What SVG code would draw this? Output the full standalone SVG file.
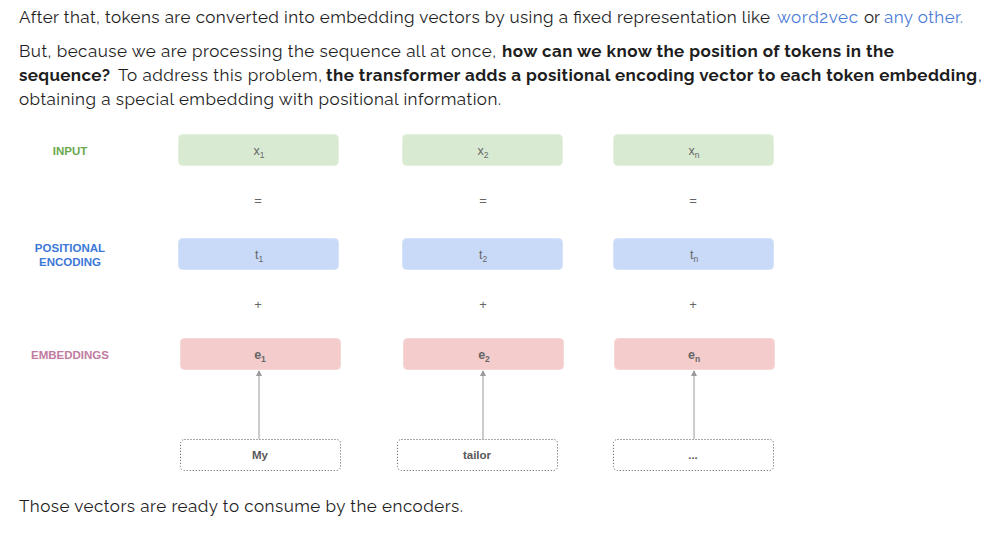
<svg xmlns="http://www.w3.org/2000/svg" width="994" height="533" viewBox="0 0 994 533">
<defs>
<style>
.p{font-family:Raleway,"Open Sans","Liberation Sans",sans-serif;font-size:17px;fill:#1e1e1e}
.b{font-weight:bold}
.lk{fill:#4a7bd6}
.lbl{font-family:"Liberation Sans",Arial,sans-serif;font-size:11.5px;font-weight:bold;text-anchor:middle}
.bt{font-family:"Liberation Sans",Arial,sans-serif;font-size:12.5px;fill:#666;text-anchor:middle}
.bb{font-weight:bold}
.sub{font-size:8.5px}
.op{font-family:"Liberation Sans",Arial,sans-serif;font-size:13px;fill:#666;text-anchor:middle}
.in{fill:#d9ead3;stroke:#e4f0df}
.pe{fill:#c9daf8;stroke:#d6e3fa}
.em{fill:#f4cccc;stroke:#f7d8d8}
.tk{fill:#fff;stroke:#555;stroke-dasharray:1 2}
.tt{font-family:"Liberation Sans",Arial,sans-serif;font-size:11.5px;font-weight:bold;fill:#595959;text-anchor:middle}
.ar{stroke:#9a9a9a;stroke-width:1;fill:none;marker-end:url(#ah)}
</style>
<marker id="ah" viewBox="0 0 6 6" refX="5" refY="3" markerWidth="6" markerHeight="6" markerUnits="userSpaceOnUse" orient="auto">
<path d="M0,0 L6,3 L0,6 z" fill="#9a9a9a"/>
</marker>
</defs>
<rect width="994" height="533" fill="#fff"/>

<g id="prose">
<text class="p" y="23"><tspan x="19" textLength="751" lengthAdjust="spacing">After that, tokens are converted into embedding vectors by using a fixed representation like</tspan><tspan x="777" class="lk" textLength="81" lengthAdjust="spacing">word2vec</tspan><tspan x="864">or</tspan><tspan x="884" class="lk" textLength="79" lengthAdjust="spacing">any other.</tspan></text>
<text class="p" y="57"><tspan x="19" textLength="477" lengthAdjust="spacing">But, because we are processing the sequence all at once,</tspan><tspan x="502" class="b" textLength="392" lengthAdjust="spacing">how can we know the position of tokens in the</tspan></text>
<text class="p" y="81"><tspan x="19" class="b" textLength="91" lengthAdjust="spacing">sequence?</tspan><tspan x="118" textLength="204" lengthAdjust="spacing">To address this problem,</tspan><tspan x="326" class="b" textLength="651" lengthAdjust="spacing">the transformer adds a positional encoding vector to each token embedding</tspan><tspan x="978">,</tspan></text>
<text class="p" y="105"><tspan x="19" textLength="482" lengthAdjust="spacing">obtaining a special embedding with positional information.</tspan></text>
<text class="p" y="512"><tspan x="19" textLength="444" lengthAdjust="spacing">Those vectors are ready to consume by the encoders.</tspan></text>
</g>

<g id="row-labels">
<text class="lbl" x="70" y="155" fill="#6aa84f">INPUT</text>
<text class="lbl" x="70" y="252" fill="#3c78d8">POSITIONAL</text>
<text class="lbl" x="70" y="266" fill="#3c78d8">ENCODING</text>
<text class="lbl" x="70" y="359" fill="#c27ba0">EMBEDDINGS</text>
</g>

<g id="connectors">
<line class="ar" x1="259" y1="439" x2="259" y2="371"/>
<line class="ar" x1="483" y1="439" x2="483" y2="371"/>
<line class="ar" x1="694" y1="439" x2="694" y2="371"/>
</g>

<g id="col1">
<g id="x1"><rect class="in" x="178.5" y="134.5" width="160" height="31" rx="4"/><text class="bt" x="259" y="155">x<tspan class="sub" dy="3">1</tspan></text></g>
<text class="op" x="258" y="205">=</text>
<g id="t1"><rect class="pe" x="178.5" y="238.5" width="160" height="31" rx="4"/><text class="bt" x="259" y="259">t<tspan class="sub" dy="3">1</tspan></text></g>
<text class="op" x="258" y="309">+</text>
<g id="e1"><rect class="em" x="180.5" y="338.5" width="160" height="31" rx="4"/><text class="bt bb" x="260" y="359">e<tspan class="sub" dy="3">1</tspan></text></g>
<g id="tok1"><rect class="tk" x="180.5" y="439.5" width="160" height="31" rx="4"/><text class="tt" x="260" y="459">My</text></g>
</g>

<g id="col2">
<g id="x2"><rect class="in" x="402.5" y="134.5" width="160" height="31" rx="4"/><text class="bt" x="483" y="155">x<tspan class="sub" dy="3">2</tspan></text></g>
<text class="op" x="483" y="205">=</text>
<g id="t2"><rect class="pe" x="402.5" y="238.5" width="160" height="31" rx="4"/><text class="bt" x="483" y="259">t<tspan class="sub" dy="3">2</tspan></text></g>
<text class="op" x="483" y="309">+</text>
<g id="e2"><rect class="em" x="403.5" y="338.5" width="160" height="31" rx="4"/><text class="bt bb" x="484" y="359">e<tspan class="sub" dy="3">2</tspan></text></g>
<g id="tok2"><rect class="tk" x="397.5" y="439.5" width="160" height="31" rx="4"/><text class="tt" x="477" y="459">tailor</text></g>
</g>

<g id="col3">
<g id="xn"><rect class="in" x="613.5" y="134.5" width="160" height="31" rx="4"/><text class="bt" x="694" y="155">x<tspan class="sub" dy="3">n</tspan></text></g>
<text class="op" x="693" y="205">=</text>
<g id="tn"><rect class="pe" x="613.5" y="238.5" width="160" height="31" rx="4"/><text class="bt" x="694" y="259">t<tspan class="sub" dy="3">n</tspan></text></g>
<text class="op" x="693" y="309">+</text>
<g id="en"><rect class="em" x="614.5" y="338.5" width="160" height="31" rx="4"/><text class="bt bb" x="694" y="359">e<tspan class="sub" dy="3">n</tspan></text></g>
<g id="tokn"><rect class="tk" x="613.5" y="439.5" width="160" height="31" rx="4"/><text class="tt" x="693" y="459">...</text></g>
</g>
</svg>
